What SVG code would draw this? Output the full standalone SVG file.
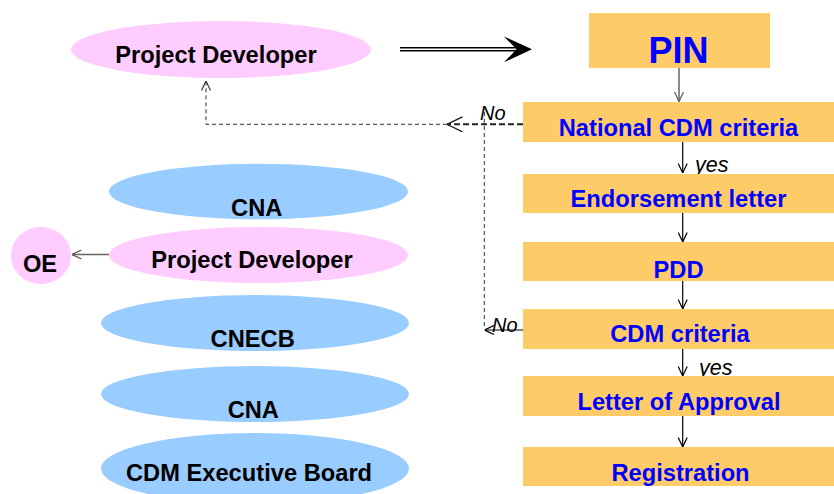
<svg xmlns="http://www.w3.org/2000/svg" width="834" height="494" viewBox="0 0 834 494">
<defs>
<style>
.lbl{font-family:"Liberation Sans",Arial,sans-serif;font-weight:bold;font-size:23.7px;text-anchor:middle;fill:#000}
.blue{fill:#0000FF}
.it{font-family:"Liberation Sans",Arial,sans-serif;font-style:italic;font-size:20px;fill:#000}
.yes{font-size:21.5px}
.box{fill:#FECB69}
.pink{fill:#FFCCFF}
.sky{fill:#99CCFF}
.arr{stroke:#000;stroke-width:1.2;fill:none}
.garr{stroke:#666;stroke-width:1.5;fill:none}
.dash{stroke:#333;stroke-width:1;fill:none;stroke-dasharray:4 3}
.dashb{stroke:#222;stroke-width:2;fill:none;stroke-dasharray:6 3}
</style>
<marker id="ah" viewBox="0 0 10 10" refX="10" refY="5" markerWidth="10" markerHeight="10" markerUnits="userSpaceOnUse" orient="auto">
<path d="M0.5,0.5 L10,5 L0.5,9.5" fill="none" stroke="#000" stroke-width="1.2"/>
</marker>
<marker id="ahg" viewBox="0 0 10 10" refX="10" refY="5" markerWidth="10" markerHeight="10" markerUnits="userSpaceOnUse" orient="auto">
<path d="M0.5,0.5 L10,5 L0.5,9.5" fill="none" stroke="#555" stroke-width="1.2"/>
</marker>
<marker id="ahd" viewBox="0 0 10 10" refX="10" refY="5" markerWidth="10" markerHeight="10" markerUnits="userSpaceOnUse" orient="auto">
<path d="M0.5,0.5 L10,5 L0.5,9.5" fill="none" stroke="#333" stroke-width="1.2"/>
</marker>
<marker id="ahbig" viewBox="0 0 16 16" refX="16" refY="8" markerWidth="16" markerHeight="16" markerUnits="userSpaceOnUse" orient="auto">
<path d="M0.5,0.5 L16,8 L0.5,15.5" fill="none" stroke="#222" stroke-width="1.4"/>
</marker>
</defs>
<rect width="834" height="494" fill="#fff"/>

<g id="connectors">
<line x1="400" y1="49.3" x2="518" y2="49.3" stroke="#000" stroke-width="4.6"/>
<line x1="399" y1="49.3" x2="518" y2="49.3" stroke="#fff" stroke-width="1.6"/>
<polygon points="532,49.3 504,36.5 516.5,49.3 504,62.3" fill="#000"/>
<line x1="679" y1="68" x2="679" y2="101.5" class="garr" marker-end="url(#ahg)"/>
<line x1="682.7" y1="142" x2="682.7" y2="173" class="arr" marker-end="url(#ah)"/>
<line x1="682.7" y1="213" x2="682.7" y2="242" class="arr" marker-end="url(#ah)"/>
<line x1="682.7" y1="281" x2="682.7" y2="309" class="arr" marker-end="url(#ah)"/>
<line x1="682.7" y1="349" x2="682.7" y2="376" class="arr" marker-end="url(#ah)"/>
<line x1="682.7" y1="416" x2="682.7" y2="447" class="arr" marker-end="url(#ah)"/>
<line x1="109" y1="254.5" x2="72" y2="254.5" class="garr" marker-end="url(#ahg)"/>
<line x1="523" y1="124.3" x2="447" y2="124.3" class="dashb" marker-end="url(#ahbig)"/>
<polyline points="447,124.3 206,124.3 206,81" class="dash" marker-end="url(#ahd)"/>
<line x1="484.3" y1="112" x2="484.3" y2="326" class="dash"/>
<line x1="523" y1="330" x2="484.5" y2="330" stroke="#000" stroke-width="1" marker-end="url(#ah)"/>
<text x="480" y="120" class="it">No</text>
<text x="492" y="332" class="it">No</text>
<text x="695" y="172" class="it yes">yes</text>
<text x="699" y="375" class="it yes">yes</text>
</g>

<g id="pd-top">
<ellipse cx="221" cy="49.5" rx="150" ry="28.5" class="pink"/>
<text x="216" y="63" class="lbl">Project Developer</text>
</g>
<g id="pin">
<rect x="589" y="13" width="181" height="55" class="box"/>
<text x="678.5" y="63" class="lbl blue" style="font-size:36px">PIN</text>
</g>
<g id="national">
<rect x="523" y="102" width="311" height="40" class="box"/>
<text x="678.5" y="136" class="lbl blue">National CDM criteria</text>
</g>
<g id="endorsement">
<rect x="523" y="174" width="311" height="39" class="box"/>
<text x="678.5" y="207" class="lbl blue">Endorsement letter</text>
</g>
<g id="pdd">
<rect x="523" y="242" width="311" height="39" class="box"/>
<text x="678.5" y="278" class="lbl blue">PDD</text>
</g>
<g id="cdm-criteria">
<rect x="523" y="309" width="311" height="40" class="box"/>
<text x="680" y="341.7" class="lbl blue">CDM criteria</text>
</g>
<g id="loa">
<rect x="523" y="376" width="311" height="40" class="box"/>
<text x="679" y="410" class="lbl blue">Letter of Approval</text>
</g>
<g id="registration">
<rect x="523" y="447" width="311" height="39" class="box"/>
<text x="680.5" y="480.7" class="lbl blue">Registration</text>
</g>

<g id="cna1">
<ellipse cx="258.5" cy="191.5" rx="149.5" ry="27.7" class="sky"/>
<text x="256.7" y="216" class="lbl">CNA</text>
</g>
<g id="pd2">
<ellipse cx="258.5" cy="255" rx="149.5" ry="28" class="pink"/>
<text x="252" y="268.3" class="lbl">Project Developer</text>
</g>
<g id="oe">
<ellipse cx="41" cy="255.5" rx="30" ry="28.5" class="pink"/>
<text x="40" y="271.7" class="lbl">OE</text>
</g>
<g id="cnecb">
<ellipse cx="255" cy="323" rx="154" ry="28" class="sky"/>
<text x="252.7" y="346.7" class="lbl">CNECB</text>
</g>
<g id="cna2">
<ellipse cx="255" cy="394" rx="154" ry="28" class="sky"/>
<text x="253.3" y="418.3" class="lbl">CNA</text>
</g>
<g id="cdm-eb">
<ellipse cx="255" cy="468.5" rx="154" ry="35.5" class="sky"/>
<text x="249" y="481" class="lbl">CDM Executive Board</text>
</g>
</svg>
